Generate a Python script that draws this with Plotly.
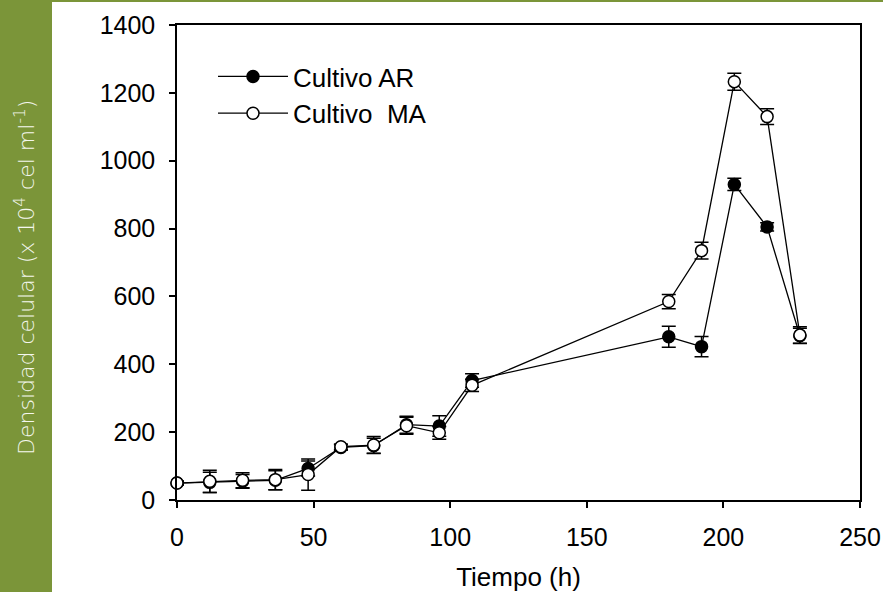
import plotly.graph_objects as go

tiempo = [0, 12, 24, 36, 48, 60, 72, 84, 96, 108, 180, 192, 204, 216, 228]
ar_values = [50, 52, 55, 58, 93, 155, 160, 222, 218, 352, 481, 452, 930, 805, 484]
ar_errors = [5, 30, 20, 28, 22, 8, 22, 25, 30, 20, 31, 30, 18, 12, 22]
ma_values = [50, 55, 58, 60, 75, 157, 162, 219, 198, 338, 585, 735, 1233, 1130, 486]
ma_errors = [6, 33, 22, 30, 46, 8, 25, 25, 19, 18, 21, 25, 25, 23, 25]
x_ticks = [0, 50, 100, 150, 200, 250]
y_ticks = [0, 200, 400, 600, 800, 1000, 1200, 1400]

W, H = 883, 592
L, R, T, B = 177, 23, 25, 92
pw, ph = W - L - R, H - T - B

def px(x):
    return (x - L) / pw

def py(y):
    return (H - B - y) / ph

GREEN = "#7b9539"
FONT = "Liberation Sans, Arial, sans-serif"

fig = go.Figure()
fig.add_trace(go.Scatter(
    x=tiempo, y=ar_values, name="Cultivo AR", mode="lines+markers",
    line=dict(color="black", width=1.3),
    marker=dict(symbol="circle", size=12, color="black", line=dict(color="black", width=1.5)),
    error_y=dict(type="data", array=ar_errors, visible=True, color="black", thickness=1.5, width=7),
    cliponaxis=False,
))
fig.add_trace(go.Scatter(
    x=tiempo, y=ma_values, name="Cultivo  MA", mode="lines+markers",
    line=dict(color="black", width=1.3),
    marker=dict(symbol="circle", size=12, color="white", line=dict(color="black", width=1.5)),
    error_y=dict(type="data", array=ma_errors, visible=True, color="black", thickness=1.5, width=7),
    cliponaxis=False,
))

fig.update_layout(
    width=W, height=H,
    margin=dict(l=L, r=R, t=T, b=B, pad=0),
    paper_bgcolor="white", plot_bgcolor="white",
    font=dict(family=FONT, size=25, color="black"),
    showlegend=True,
    legend=dict(x=px(213), y=py(53), xanchor="left", yanchor="top",
                bgcolor="rgba(0,0,0,0)", font=dict(size=26), itemwidth=70,
                tracegroupgap=0),
    xaxis=dict(range=[0, 250], tickvals=x_ticks, showgrid=False, zeroline=False,
               showline=True, linecolor="black", linewidth=1.5, mirror=True,
               ticks="outside", ticklen=6, tickwidth=1.5, tickcolor="black",
               tickfont=dict(size=25), ticklabelstandoff=8, automargin=False,
               title=dict(text="Tiempo (h)", font=dict(size=26), standoff=22)),
    yaxis=dict(range=[0, 1400], tickvals=y_ticks, showgrid=False, zeroline=False,
               showline=True, linecolor="black", linewidth=1.5, mirror=True,
               ticks="outside", ticklen=6, tickwidth=1.5, tickcolor="black",
               tickfont=dict(size=25), ticklabelstandoff=9, automargin=False),
    shapes=[
        dict(type="rect", xref="paper", yref="paper", x0=px(0), x1=px(52), y0=py(H), y1=py(0),
             fillcolor=GREEN, line=dict(width=0), layer="below"),
        dict(type="rect", xref="paper", yref="paper", x0=px(0), x1=px(W), y0=py(2), y1=py(0),
             fillcolor=GREEN, line=dict(width=0), layer="below"),
    ],
    annotations=[
        dict(text="Densidad celular (x 10<sup>4</sup> cel ml<sup>-1</sup>)", textangle=-90,
             xref="paper", yref="paper", x=px(25), y=py(278), xanchor="center", yanchor="middle",
             showarrow=False, font=dict(family="DejaVu Sans, sans-serif", size=22, color="#f4f7ee", weight=200)),
    ],
)

fig.write_html("out.html", config={"displayModeBar": False},
               post_script="document.body.style.margin='0';")
